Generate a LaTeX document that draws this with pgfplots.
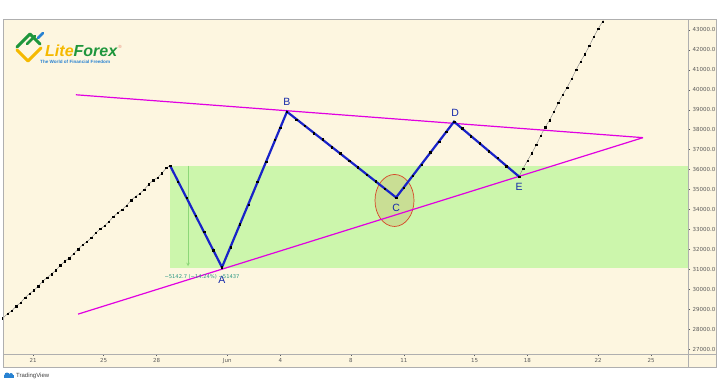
\documentclass[border=0pt]{standalone}
\usepackage{fontspec}
\setmainfont{Liberation Sans}
\newfontfamily\dejavu{DejaVu Sans}
\usepackage{pgfplots}
\pgfplotsset{compat=1.18}
\definecolor{cream}{RGB}{253,246,224}
\definecolor{framec}{RGB}{175,175,175}
\definecolor{rectgreen}{RGB}{204,246,172}
\definecolor{measgreen}{RGB}{140,215,120}
\definecolor{zig}{RGB}{25,35,200}
\definecolor{mag}{RGB}{225,0,225}
\definecolor{lblue}{RGB}{20,40,170}
\definecolor{teal2}{RGB}{40,150,130}
\definecolor{tickgray}{RGB}{90,90,90}
\definecolor{lfyellow}{RGB}{245,185,0}
\definecolor{lfgreen}{RGB}{30,150,60}
\definecolor{lfblue}{RGB}{40,130,210}
\definecolor{ellfill}{RGB}{200,215,140}
\definecolor{ellline}{RGB}{215,70,40}

\pgfplotstableread{
d v
-1.70 28550
-1.45 28770
-1.20 28920
-0.95 29150
-0.70 29330
-0.45 29580
-0.20 29780
0.05 29940
0.30 30150
0.55 30400
0.80 30590
1.05 30760
1.30 30960
1.55 31200
1.80 31400
2.05 31560
2.30 31770
2.55 32010
2.80 32220
3.05 32380
3.30 32580
3.55 32820
3.80 33020
4.05 33180
4.30 33390
4.55 33640
4.80 33830
5.05 33990
5.30 34200
5.55 34460
5.80 34650
6.05 34800
6.30 35000
6.55 35260
6.80 35460
7.05 35600
7.30 35820
7.55 36080
7.76 36200
8.20 35400
8.70 34600
9.20 33700
9.70 32880
10.20 31950
10.70 31100
11.20 32100
11.70 33250
12.20 34250
12.70 35380
13.20 36380
13.70 37500
14.00 38100
14.38 38900
14.90 38500
15.40 38200
15.90 37820
16.40 37520
16.90 37120
17.40 36820
17.90 36430
18.40 36120
18.90 35730
19.40 35420
19.90 35040
20.56 34600
21.00 35100
21.50 35700
22.00 36250
22.50 36880
23.00 37410
23.40 37900
23.84 38400
24.30 38080
24.80 37670
25.30 37330
25.80 36920
26.30 36580
26.80 36170
27.52 35650
27.75 36050
28.00 36450
28.25 36830
28.50 37240
28.75 37700
29.00 38120
29.25 38480
29.50 38900
29.75 39350
30.00 39760
30.25 40120
30.50 40550
30.75 41000
31.00 41410
31.25 41780
31.50 42200
31.75 42650
32.00 43050
32.25 43420
32.50 43850
}\price

\pgfplotstableread{
d v
7.76 36200
10.70 31100
14.38 38900
20.56 34600
23.84 38400
27.52 35650
}\zigzag

\begin{document}
\begin{tikzpicture}
\useasboundingbox (0,0) rectangle (720pt,384pt);
\fill[white] (0,0) rectangle (720pt,384pt);
\fill[cream] (3pt,17pt) rectangle (716pt,365pt);
\begin{axis}[at={(3pt,30pt)}, anchor=south west,
  width=685pt, height=334pt, scale only axis,
  xmin=-1.70, xmax=37.09, ymin=26750, ymax=43500,
  axis x line*=bottom, axis y line*=right,
  axis line style={draw=none},
  clip=true,
  ytick={27000,28000,...,43000},
  xtick={0,4,7,11,14,18,21,25,28,32,35},
  xticklabels={21,25,28,Jun,4,8,11,15,18,22,25},
  scaled y ticks=false,
  yticklabel style={/pgf/number format/fixed, /pgf/number format/fixed zerofill, /pgf/number format/precision=1, /pgf/number format/1000 sep={}, /pgf/number format/assume math mode=true, /tikz/xshift=-1pt},
  ticklabel style={font=\dejavu\fontsize{5.5}{6}\selectfont, text=tickgray},
  xticklabel style={yshift=1pt},
  tick style={draw=tickgray, line width=0.4pt},
  major tick length=2pt,
  tick align=outside,
]
% green rectangle
\addplot[fill=rectgreen, draw=none] coordinates {(7.76,31050) (38,31050) (38,36200) (7.76,36200)} -- cycle;
% measure line
\addplot[draw=measgreen, line width=0.6pt, -stealth] coordinates {(8.78,36200) (8.78,31150)};
% ellipse
\draw[fill=ellfill, fill opacity=0.75, draw=ellline, line width=0.7pt] (axis cs:20.47,34450) ellipse [x radius=19.5pt, y radius=26pt];
% price line
\addplot[draw=gray, line width=0.4pt, mark=square*, mark size=0.7pt, mark options={fill=black, draw=black}] table[x=d, y=v] {\price};
% magenta lines
\addplot[draw=mag, line width=1.2pt] coordinates {(2.43,39750) (34.54,37600)};
\addplot[draw=mag, line width=1.2pt] coordinates {(2.55,28750) (34.54,37600)};
% zigzag
\addplot[draw=zig, line width=2.2pt, line join=miter] table[x=d, y=v] {\zigzag};
% letters
\node[text=lblue, font=\fontsize{10.5}{12}\selectfont] at (axis cs:10.70,30480) {A};
\node[text=lblue, font=\fontsize{10.5}{12}\selectfont] at (axis cs:14.38,39400) {B};
\node[text=lblue, font=\fontsize{10.5}{12}\selectfont] at (axis cs:20.56,34100) {C};
\node[text=lblue, font=\fontsize{10.5}{12}\selectfont] at (axis cs:23.90,38850) {D};
\node[text=lblue, font=\fontsize{10.5}{12}\selectfont] at (axis cs:27.52,35150) {E};
\node[text=teal2, font=\dejavu\fontsize{5.2}{6}\selectfont] at (axis cs:9.57,30620) {−5142.7 (−14.24\%) −51437};
\end{axis}
% frame lines
\draw[framec, line width=0.8pt] (3pt,17pt) rectangle (716pt,365pt);
\draw[framec, line width=0.6pt] (688pt,17pt) -- (688pt,365pt);
\draw[framec, line width=0.6pt] (3pt,30pt) -- (716pt,30pt);
% logo icon
\draw[lfyellow, line width=3pt, line cap=round, line join=round] (17pt,334pt) -- (28pt,323pt) -- (41pt,336pt);
\draw[lfgreen, line width=3pt, line cap=round, line join=round] (17pt,337pt) -- (30pt,350pt) -- (40pt,340pt);
\draw[lfgreen, line width=2.5pt, line cap=round] (27pt,340pt) -- (35pt,348pt);
\draw[lfblue, line width=2.5pt, line cap=round] (38pt,346pt) -- (43pt,351pt);
\node[anchor=base west, inner sep=0pt, font=\bfseries\itshape\fontsize{16}{18}\selectfont] at (45pt,327pt) {\textcolor{lfyellow}{Lite}\textcolor{lfgreen}{Forex}};
\node[anchor=center, inner sep=0pt, text=ellline!70, font=\fontsize{4.5}{5}\selectfont] at (120pt,337pt) {®};
\node[anchor=base west, inner sep=0pt, text=lfblue, font=\bfseries\fontsize{4.6}{5}\selectfont] at (40pt,320.5pt) {The World of Financial Freedom};
% tradingview
\fill[lfblue] (4pt,6pt) rectangle (14pt,9pt);
\fill[lfblue] (7pt,9pt) circle (2.5pt);
\fill[lfblue] (11pt,9pt) circle (2pt);
\node[anchor=west, inner sep=0pt, text=black!75, font=\fontsize{6}{7}\selectfont] at (16pt,8pt) {TradingView};
\end{tikzpicture}
\end{document}
